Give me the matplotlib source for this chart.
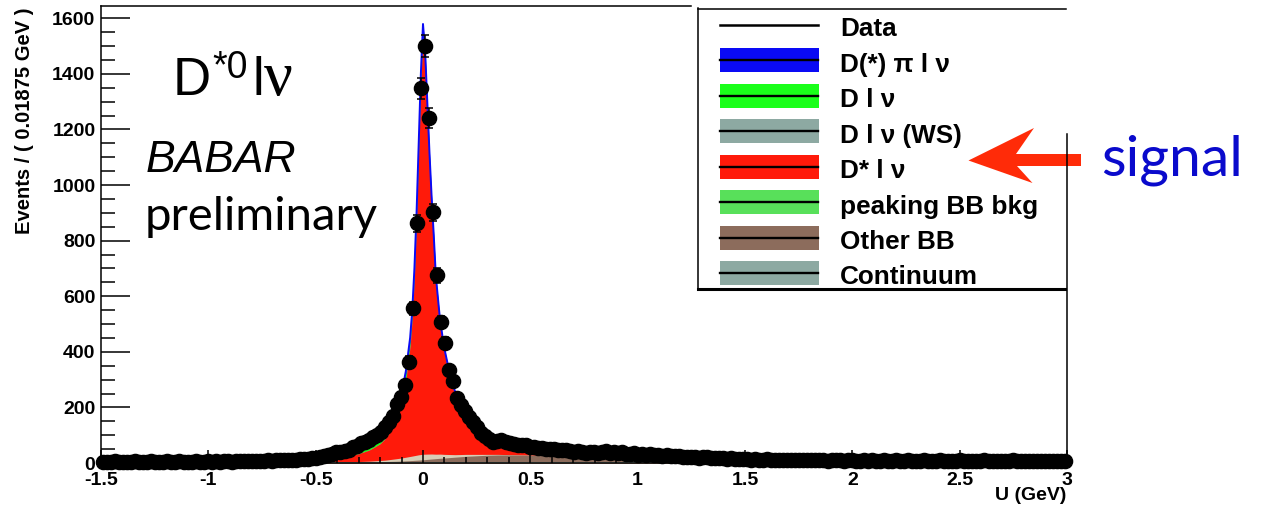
import numpy as np
import matplotlib
matplotlib.use("Agg")
import matplotlib.pyplot as plt
from matplotlib import transforms
from matplotlib.patches import Rectangle, Polygon
from matplotlib.lines import Line2D
from matplotlib.ticker import MultipleLocator, FuncFormatter

# ---------------- data ----------------
u_lo, u_hi, bin_width = -1.5, 3.0, 0.01875

# events per bin (240 bins of 0.01875 GeV from -1.5 to 3.0 GeV)
events = [
    4, 5, 3, 6, 4, 5, 3, 5, 6, 4, 5, 4, 6, 3, 5, 4, 6, 5, 4, 6, 5, 4, 5, 6, 4, 5, 6,
    5, 6, 4, 6, 7, 5, 6, 7, 6, 8, 7, 6, 8, 7, 9, 8, 9, 10, 9, 11,
    11, 12, 13, 14, 16, 17, 19, 21, 24, 27, 32,
    38, 41, 44, 47, 56, 62, 71, 77, 83, 92, 101, 113, 131, 149, 168,
    211, 239, 281, 365, 557, 862, 1348, 1500, 1242, 902, 675, 508, 431, 335, 296, 233, 209,
    188, 167, 146, 128, 107, 96, 88, 77, 80, 83, 76, 71, 69, 65, 66, 63, 59, 57, 55, 53,
    52, 49, 51, 47, 47, 45, 43, 41, 42,
    40, 36, 38, 41, 35, 39, 42, 37, 40, 36, 38, 34,
    33, 36, 30, 32, 28, 31, 27, 29, 26, 28, 25,
    24, 26, 22, 23, 21, 22, 19, 21, 20, 18, 19, 17, 18, 16, 17, 15, 16, 14,
    14, 12, 13, 11, 12, 13, 11, 10, 12, 11, 10, 12, 9, 11, 10, 9, 11, 10, 9, 10, 8, 9, 10, 9, 8, 9,
    9, 8, 7, 9, 8, 10, 7, 8, 9, 7, 8, 10, 8, 7, 9, 8, 6, 8, 9, 7,
    8, 7, 9, 8, 6, 8, 7, 9, 8, 7, 6, 8, 7, 9, 7, 8, 6, 7, 8, 7,
    9, 6, 7, 8, 7, 6, 8, 7, 6, 7, 8, 7, 6, 8,
]

# fit components evaluated on a U grid (events / bin)
fit_u = [-1.5, -1.0, -0.7, -0.6, -0.5, -0.45, -0.4, -0.35, -0.3, -0.25,
         -0.2, -0.175, -0.15, -0.125, -0.1, -0.08, -0.06, -0.05, -0.04, -0.03,
         -0.02, -0.01, 0.0, 0.01, 0.02, 0.03, 0.04, 0.05, 0.06, 0.08,
         0.1, 0.125, 0.15, 0.175, 0.2, 0.25, 0.3, 0.35, 0.4, 0.5,
         0.6, 0.7, 0.8, 1.0, 1.2, 1.5, 2.0, 2.5, 3.0]
continuum = [3, 3, 3, 3, 3, 3, 3, 3, 3, 3,
             3, 3, 3, 3, 3, 3, 3, 3, 3, 3,
             3, 3, 3, 3, 3, 3, 3, 3, 3, 3,
             3, 3, 3, 3, 3, 3, 3, 3, 3, 3,
             3, 3, 3, 3, 3, 3, 3, 3, 3]
other_bb = [1, 1.5, 1.5, 1.2, 1, 1, 1, 1.1, 1.2, 1.6,
            2, 2.4, 2.8, 3.3, 4, 4.8, 5.6, 6, 6.5, 7,
            7.5, 8, 8.5, 9.2, 10, 10.7, 11.4, 12, 12.7, 14,
            15, 16.5, 18, 19.5, 21, 23, 25, 26, 26, 25,
            24, 23, 22, 18, 14, 9, 5, 4, 3]
peaking_bb = [0, 0, 0, 0, 0, 0, 0, 0, 1, 2,
              4, 5, 7, 9, 11, 13, 15, 16, 17, 18,
              19, 19.5, 20, 19.5, 19, 18.5, 18, 17, 16, 15,
              13, 11, 9, 8, 7, 5, 3, 2, 1, 0.5,
              0, 0, 0, 0, 0, 0, 0, 0, 0]
dstar_lnu = [0.5, 0.5, 1, 2.5, 8, 11, 15, 21, 28, 40,
             60, 78, 104, 143, 200, 278, 397, 495, 643, 842,
             1089, 1337, 1515, 1417, 1239, 1061, 904, 766, 618, 459,
             362, 274, 211, 165, 130, 84, 56, 40, 31, 21,
             15, 12, 9, 5, 2, 0.5, 0, 0, 0]
d_lnu_ws = [0, 0, 0, 0, 0, 0, 0, 0, 0.5, 0.7,
            1, 1.2, 1.4, 1.6, 2, 2.3, 2.6, 2.8, 3, 3.3,
            3.6, 3.8, 4, 3.8, 3.6, 3.3, 3, 2.8, 2.6, 2.3,
            2, 1.7, 1.5, 1.2, 1, 0.8, 0.5, 0.3, 0.2, 0,
            0, 0, 0, 0, 0, 0, 0, 0, 0]
d_lnu = [0, 0, 0, 0.5, 1.5, 2.5, 4, 7, 11, 17,
         23, 25, 27, 27, 26, 24, 22, 21, 20, 19,
         18, 17, 16, 15, 14, 13, 12, 11, 10, 9,
         8, 7, 6, 5, 4.5, 3.5, 3, 2.5, 2, 1.5,
         1, 1, 0.5, 0, 0, 0, 0, 0, 0]
dpi_lnu = [0, 0, 0, 0, 0.5, 0.5, 1, 1, 1.5, 2,
           2.5, 3, 3, 3.5, 4, 4.5, 5, 6, 7, 8,
           10, 12, 13, 12, 11, 10, 9, 8.5, 8, 7.5,
           7, 7, 6.5, 6.5, 6, 6, 5.5, 5.5, 5, 5,
           4.5, 4, 3.5, 3, 2, 1, 0.5, 0, 0]

legend_labels = ["Data", "D(*) π l ν", "D l ν", "D l ν (WS)", "D* l ν",
                 "peaking BB bkg", "Other BB", "Continuum"]

# ---------------- style ----------------
plt.rcParams["font.family"] = ["Liberation Sans", "DejaVu Sans"]
plt.rcParams["font.weight"] = "bold"
plt.rcParams["axes.unicode_minus"] = False

W, H = 1263, 512
fig = plt.figure(figsize=(W / 100, H / 100), dpi=100)
pix = transforms.Affine2D().scale(1 / W, -1 / H).translate(0, 1) + fig.transFigure

ax_l, ax_r, ax_t, ax_b = 101, 1067, 5.5, 463
ax = fig.add_axes([ax_l / W, 1 - ax_b / H, (ax_r - ax_l) / W, (ax_b - ax_t) / H])
ax.set_xlim(u_lo, u_hi)
ax.set_ylim(0, 1646)

# stacked fit components (bottom to top)
col_cont, col_other, col_peak_fill = "#8DA9A2", "#8C6C5C", "#D8CEB6"
col_dstar, col_ws, col_dlnu, col_dpi = "#FF1A0A", "#8DA9A2", "#1AFF1A", "#0A0AF5"
layers = [continuum, other_bb, peaking_bb, dstar_lnu, d_lnu_ws, d_lnu, dpi_lnu]
layer_cols = [col_cont, col_other, col_peak_fill, col_dstar, col_ws, col_dlnu, col_dpi]
cum = np.cumsum(np.array(layers, dtype=float), axis=0)
fu = np.array(fit_u)
for k in range(len(layers) - 1, -1, -1):
    ax.fill_between(fu, 0, cum[k], color=layer_cols[k], lw=0, zorder=1 + 0.01 * (len(layers) - k))
ax.plot(fu, cum[-1], color=col_dpi, lw=1.4, zorder=2)

# data points with Poisson errors
ev = np.array(events, dtype=float)
centers = u_lo + bin_width * (np.arange(len(ev)) + 0.5)
eb = ax.errorbar(centers, ev, yerr=np.sqrt(ev), fmt="o", color="black", ms=10.2,
                 elinewidth=1.1, capsize=2.8, capthick=1.1, zorder=5)
for art in eb.get_children():
    art.set_clip_on(False)

# axes frame
for s in ("top", "right"):
    ax.spines[s].set_visible(False)
for s in ("left", "bottom"):
    ax.spines[s].set_linewidth(1.1)
fig.add_artist(Line2D([ax_l, 691], [6, 6], color="black", lw=1.1, transform=pix))
fig.add_artist(Line2D([1067, 1067], [134, ax_b], color="black", lw=1.1, transform=pix))

ax.xaxis.set_major_locator(MultipleLocator(0.5))
ax.xaxis.set_minor_locator(MultipleLocator(0.1))
ax.yaxis.set_major_locator(MultipleLocator(200))
ax.yaxis.set_minor_locator(MultipleLocator(50))
fmt = FuncFormatter(lambda v, p: "%g" % v)
ax.xaxis.set_major_formatter(fmt)
ax.yaxis.set_major_formatter(fmt)
ax.tick_params(axis="y", which="major", direction="in", length=21, width=1.1,
               labelsize=14, pad=4)
ax.tick_params(axis="y", which="minor", direction="in", length=10, width=1.1)
ax.tick_params(axis="x", which="major", direction="in", length=9.5, width=1.1,
               labelsize=14, pad=6.5)
ax.tick_params(axis="x", which="minor", direction="in", length=4, width=1.1)

fig.text(1066, 496, "U (GeV)", transform=pix, ha="right", va="center",
         fontsize=14, fontweight="bold")
fig.text(25, 7, "Events / ( 0.01875 GeV )", transform=pix, ha="center", va="top",
         rotation=90, fontsize=14.5, fontweight="bold")

# in-plot annotations
fig.text(173, 95, "D", transform=pix, fontsize=38, fontweight="normal", va="baseline")
fig.text(212, 78, "*0", transform=pix, fontsize=27, fontweight="normal", va="baseline")
fig.text(253, 95, "l", transform=pix, fontsize=38, fontweight="normal", va="baseline")
fig.text(264, 95, "ν", transform=pix, fontsize=46, fontweight="normal", va="baseline",
         family="Liberation Serif")
fig.text(146, 172, "BABAR", transform=pix, fontsize=32, fontweight="normal",
         style="italic", va="baseline")
fig.text(145, 230, "preliminary", transform=pix, fontsize=34, fontweight="normal",
         va="baseline", family="Lato")

# legend
fig.add_artist(Line2D([698, 698], [8, 289], color="black", lw=1.1, transform=pix))
fig.add_artist(Line2D([698, 1066], [8.5, 8.5], color="black", lw=1.1, transform=pix))
fig.add_artist(Line2D([698, 1065], [289, 289], color="black", lw=2.2, transform=pix))
swatch_cols = [None, col_dpi, col_dlnu, col_ws, col_dstar, "#58E05A", col_other, col_cont]
for i, (lab, c) in enumerate(zip(legend_labels, swatch_cols)):
    yc = 25 + 35.45 * i
    if c is not None:
        fig.add_artist(Rectangle((720, yc - 12), 99, 24, facecolor=c, edgecolor="none",
                                 transform=pix))
    fig.add_artist(Line2D([720, 818], [yc, yc], color="black",
                          lw=1.8 if c is None else 1.7, transform=pix))
    fig.text(840, yc + 11.3, lab, transform=pix, fontsize=18.8, fontweight="bold",
             va="baseline")

# arrow pointing at the signal component
arrow = Polygon([(968.5, 160.5), (1034, 128), (1016, 154), (1081, 154),
                 (1081, 166), (1017, 166), (1032.5, 183)], closed=True,
                facecolor="#FF2B08", edgecolor="none", transform=pix)
fig.add_artist(arrow)
fig.text(1101, 175, "signal", transform=pix, fontsize=41, fontweight="normal",
         va="baseline", color="#0A0ACC", family="Lato")

fig.savefig("out.png", dpi=100)
